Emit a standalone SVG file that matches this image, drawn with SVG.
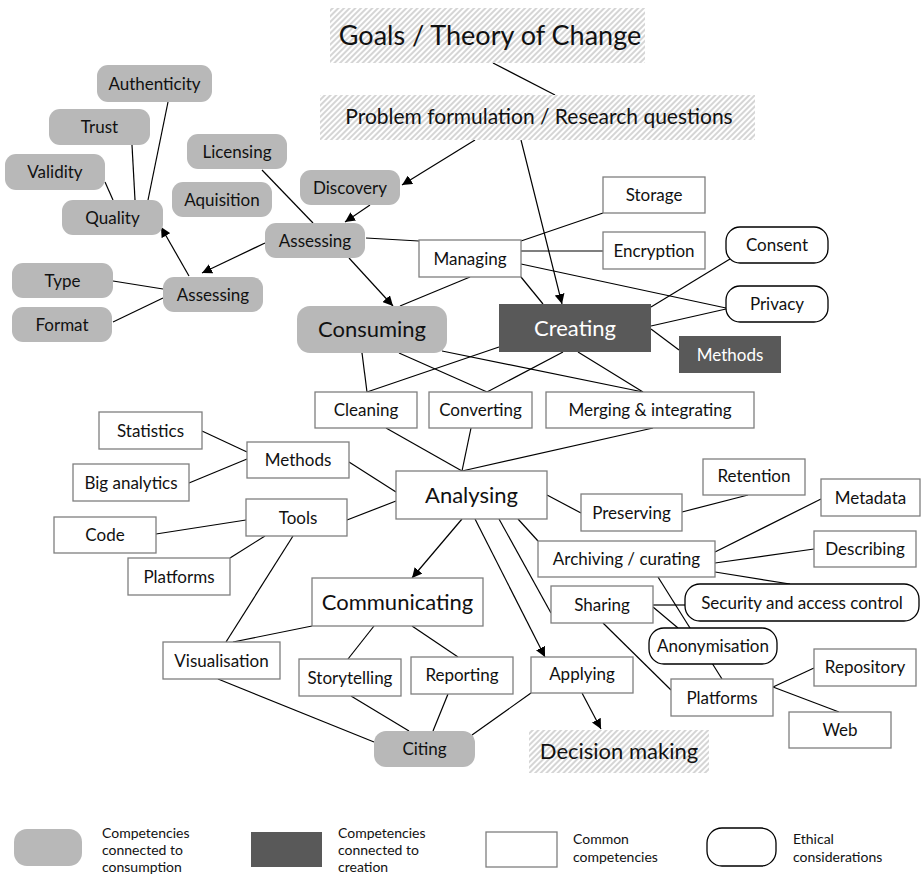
<svg xmlns="http://www.w3.org/2000/svg" width="923" height="877" viewBox="0 0 923 877">
<defs>
<pattern id="hatch" width="4" height="4" patternUnits="userSpaceOnUse" patternTransform="rotate(45)">
<rect width="4" height="4" fill="#ffffff"/>
<line x1="1" y1="0" x2="1" y2="4" stroke="#c4c4c4" stroke-width="1.4"/>
</pattern>
<marker id="arr" viewBox="0 0 10 10" refX="10" refY="5" markerWidth="10" markerHeight="10" markerUnits="userSpaceOnUse" orient="auto">
<path d="M0,0 L10,5 L0,10 Z" fill="#000"/>
</marker>
</defs>
<style>
text{font-family:Lato,"Liberation Sans",sans-serif;fill:#111;text-anchor:middle}
.g{fill:#b8b8b8;stroke:none}
.d{fill:#595959;stroke:none}
.w{fill:#fff;stroke:#7f7f7f;stroke-width:1.3}
.e{fill:#fff;stroke:#000;stroke-width:1.3}
.h{fill:url(#hatch);stroke:none}
.s{font-size:17px}
.l{font-size:22px}
.wt{fill:#fff}
#connectors line,#connectors path{stroke:#000;stroke-width:1.2;fill:none}
.a{marker-end:url(#arr)}
.lg{font-size:14px;text-anchor:start}
</style>
<rect width="923" height="877" fill="#fff"/>
<g id="connectors">
<line x1="493" y1="63" x2="555" y2="95"/>
<line class="a" x1="475" y1="140" x2="402" y2="185"/>
<line class="a" x1="521" y1="140" x2="562" y2="304"/>
<line class="a" x1="370" y1="205" x2="345" y2="222"/>
<line class="a" x1="265" y1="243" x2="202" y2="273"/>
<line class="a" x1="189" y1="276" x2="161" y2="227"/>
<line class="a" x1="349" y1="258" x2="393" y2="306"/>
<line x1="105" y1="182" x2="113" y2="200"/>
<line x1="132" y1="145" x2="135" y2="200"/>
<line x1="168" y1="102" x2="148" y2="200"/>
<line x1="113" y1="281" x2="163" y2="289"/>
<line x1="113" y1="322" x2="163" y2="298"/>
<line x1="262" y1="170" x2="313" y2="223"/>
<line x1="366" y1="238" x2="419" y2="241"/>
<line x1="400" y1="306" x2="470" y2="277"/>
<line x1="521" y1="241" x2="603" y2="213"/>
<line x1="521" y1="251" x2="603" y2="251"/>
<line x1="521" y1="264" x2="726" y2="308"/>
<line x1="521" y1="277" x2="543" y2="304"/>
<line x1="651" y1="307" x2="730" y2="259"/>
<line x1="651" y1="326" x2="726" y2="309"/>
<line x1="651" y1="329" x2="679" y2="350"/>
<line x1="362" y1="353" x2="367" y2="392"/>
<line x1="399" y1="353" x2="487" y2="392"/>
<line x1="442" y1="351" x2="643" y2="392"/>
<line x1="499" y1="347" x2="367" y2="392"/>
<line x1="563" y1="352" x2="487" y2="392"/>
<line x1="578" y1="352" x2="643" y2="392"/>
<line x1="386" y1="428" x2="462" y2="471"/>
<line x1="471" y1="428" x2="462" y2="471"/>
<line x1="653" y1="428" x2="462" y2="471"/>
<line x1="202" y1="431" x2="247" y2="452"/>
<line x1="189" y1="483" x2="247" y2="459"/>
<line x1="349" y1="462" x2="396" y2="492"/>
<line x1="347" y1="520" x2="396" y2="501"/>
<line x1="156" y1="534" x2="246" y2="520"/>
<line x1="230" y1="558" x2="265" y2="536"/>
<line x1="293" y1="536" x2="226" y2="642"/>
<line class="a" x1="462" y1="519" x2="412" y2="578"/>
<line class="a" x1="475" y1="519" x2="545" y2="657"/>
<line x1="499" y1="519" x2="551" y2="613"/>
<line x1="518" y1="519" x2="538" y2="541"/>
<line x1="547" y1="495" x2="581" y2="513"/>
<line x1="682" y1="512" x2="748" y2="495"/>
<line x1="715" y1="552" x2="821" y2="499"/>
<line x1="715" y1="563" x2="814" y2="549"/>
<line x1="715" y1="572" x2="790" y2="584"/>
<line x1="658" y1="577" x2="722" y2="679"/>
<line x1="653" y1="605" x2="685" y2="605"/>
<line x1="653" y1="607" x2="678" y2="628"/>
<line x1="603" y1="623" x2="671" y2="690"/>
<line x1="773" y1="687" x2="814" y2="668"/>
<line x1="773" y1="687" x2="839" y2="712"/>
<line class="a" x1="582" y1="693" x2="601" y2="729"/>
<line x1="531" y1="693" x2="472" y2="735"/>
<line x1="312" y1="626" x2="233" y2="642"/>
<line x1="374" y1="626" x2="348" y2="659"/>
<line x1="412" y1="626" x2="458" y2="657"/>
<line x1="218" y1="679" x2="374" y2="742"/>
<line x1="351" y1="696" x2="409" y2="731"/>
<line x1="448" y1="694" x2="433" y2="731"/>
</g>
<g id="goals"><rect class="h" x="330" y="8" width="315" height="55"/><text x="490" y="45" style="font-size:27px">Goals / Theory of Change</text></g>
<g id="problem"><rect class="h" x="320" y="95" width="435" height="45"/><text x="539" y="124" style="font-size:21px">Problem formulation / Research questions</text></g>
<g id="authenticity"><rect class="g" x="97" y="65" width="115" height="37" rx="11"/><text class="s" x="154.5" y="89.5">Authenticity</text></g>
<g id="trust"><rect class="g" x="49" y="109" width="101" height="36" rx="11"/><text class="s" x="99.5" y="133">Trust</text></g>
<g id="validity"><rect class="g" x="5" y="154" width="100" height="36" rx="11"/><text class="s" x="55" y="178">Validity</text></g>
<g id="licensing"><rect class="g" x="187" y="134" width="100" height="35" rx="11"/><text class="s" x="237" y="157.5">Licensing</text></g>
<g id="aquisition"><rect class="g" x="172" y="182" width="100" height="35" rx="11"/><text class="s" x="222" y="205.5">Aquisition</text></g>
<g id="quality"><rect class="g" x="62" y="200" width="101" height="35" rx="11"/><text class="s" x="112.5" y="223.5">Quality</text></g>
<g id="discovery"><rect class="g" x="300" y="170" width="100" height="35" rx="11"/><text class="s" x="350" y="193.5">Discovery</text></g>
<g id="assessing1"><rect class="g" x="265" y="223" width="100" height="35" rx="11"/><text class="s" x="315" y="246.5">Assessing</text></g>
<g id="assessing2"><rect class="g" x="163" y="277" width="100" height="35" rx="11"/><text class="s" x="213" y="300.5">Assessing</text></g>
<g id="type"><rect class="g" x="12" y="263" width="101" height="35" rx="11"/><text class="s" x="62.5" y="286.5">Type</text></g>
<g id="format"><rect class="g" x="12" y="307" width="100" height="35" rx="11"/><text class="s" x="62" y="330.5">Format</text></g>
<g id="consuming"><rect class="g" x="297" y="306" width="150" height="47" rx="13"/><text class="l" x="372" y="337">Consuming</text></g>
<g id="creating"><rect class="d" x="499" y="304" width="152" height="48"/><text class="l wt" x="575" y="336">Creating</text></g>
<g id="methods-create"><rect class="d" x="679" y="336" width="102" height="37"/><text class="s wt" x="730" y="361">Methods</text></g>
<g id="storage"><rect class="w" x="603" y="177" width="102" height="36"/><text class="s" x="654" y="201">Storage</text></g>
<g id="encryption"><rect class="w" x="603" y="232" width="102" height="37"/><text class="s" x="654" y="256.5">Encryption</text></g>
<g id="managing"><rect class="w" x="419" y="240" width="102" height="37"/><text class="s" x="470" y="264.5">Managing</text></g>
<g id="consent"><rect class="e" x="726" y="227" width="102" height="36" rx="14"/><text class="s" x="777" y="251">Consent</text></g>
<g id="privacy"><rect class="e" x="726" y="286" width="102" height="36" rx="14"/><text class="s" x="777" y="310">Privacy</text></g>
<g id="cleaning"><rect class="w" x="315" y="392" width="102" height="36"/><text class="s" x="366" y="416">Cleaning</text></g>
<g id="converting"><rect class="w" x="429" y="392" width="103" height="36"/><text class="s" x="480.5" y="416">Converting</text></g>
<g id="merging"><rect class="w" x="546" y="392" width="208" height="36"/><text class="s" x="650" y="416">Merging &amp; integrating</text></g>
<g id="statistics"><rect class="w" x="99" y="412" width="103" height="37"/><text class="s" x="150.5" y="436.5">Statistics</text></g>
<g id="big-analytics"><rect class="w" x="73" y="464" width="116" height="37"/><text class="s" x="131" y="488.5">Big analytics</text></g>
<g id="methods"><rect class="w" x="247" y="442" width="102" height="36"/><text class="s" x="298" y="466">Methods</text></g>
<g id="tools"><rect class="w" x="246" y="499" width="101" height="37"/><text class="s" x="298" y="523.5">Tools</text></g>
<g id="code"><rect class="w" x="54" y="517" width="102" height="36"/><text class="s" x="105" y="541">Code</text></g>
<g id="platforms-left"><rect class="w" x="128" y="558" width="102" height="37"/><text class="s" x="179" y="582.5">Platforms</text></g>
<g id="analysing"><rect class="w" x="396" y="471" width="151" height="48"/><text class="l" x="471.5" y="503">Analysing</text></g>
<g id="communicating"><rect class="w" x="312" y="578" width="171" height="48"/><text class="l" x="397.5" y="610">Communicating</text></g>
<g id="visualisation"><rect class="w" x="163" y="642" width="117" height="37"/><text class="s" x="221.5" y="666.5">Visualisation</text></g>
<g id="storytelling"><rect class="w" x="299" y="659" width="102" height="37"/><text class="s" x="350" y="683.5">Storytelling</text></g>
<g id="reporting"><rect class="w" x="411" y="657" width="102" height="37"/><text class="s" x="462" y="681">Reporting</text></g>
<g id="citing"><rect class="g" x="374" y="731" width="101" height="36" rx="12"/><text class="s" x="424.5" y="755">Citing</text></g>
<g id="applying"><rect class="w" x="531" y="657" width="102" height="36"/><text class="s" x="582" y="679.5">Applying</text></g>
<g id="decision"><rect class="h" x="529" y="730" width="180" height="43"/><text x="619" y="759" style="font-size:22px">Decision making</text></g>
<g id="retention"><rect class="w" x="703" y="459" width="102" height="36"/><text class="s" x="754" y="482">Retention</text></g>
<g id="preserving"><rect class="w" x="581" y="494" width="101" height="37"/><text class="s" x="631.5" y="518.5">Preserving</text></g>
<g id="metadata"><rect class="w" x="821" y="479" width="99" height="37"/><text class="s" x="870.5" y="503.5">Metadata</text></g>
<g id="archiving"><rect class="w" x="538" y="541" width="177" height="36"/><text class="s" x="626.5" y="565">Archiving / curating</text></g>
<g id="describing"><rect class="w" x="814" y="531" width="102" height="36"/><text class="s" x="865" y="555">Describing</text></g>
<g id="sharing"><rect class="w" x="551" y="586" width="102" height="37"/><text class="s" x="602" y="610.5">Sharing</text></g>
<g id="security"><rect class="e" x="685" y="584" width="234" height="37" rx="15"/><text class="s" x="802" y="608.5">Security and access control</text></g>
<g id="anonymisation"><rect class="e" x="649" y="628" width="128" height="36" rx="15"/><text class="s" x="713" y="652">Anonymisation</text></g>
<g id="repository"><rect class="w" x="814" y="649" width="102" height="37"/><text class="s" x="865" y="673">Repository</text></g>
<g id="platforms-right"><rect class="w" x="671" y="679" width="102" height="37"/><text class="s" x="722" y="703.5">Platforms</text></g>
<g id="web"><rect class="w" x="789" y="712" width="102" height="36"/><text class="s" x="840" y="736">Web</text></g>
<g id="legend">
<rect class="g" x="14" y="829" width="68" height="37" rx="13"/>
<text class="lg" x="102"><tspan x="102" y="838">Competencies</tspan><tspan x="102" y="855">connected to</tspan><tspan x="102" y="872">consumption</tspan></text>
<rect class="d" x="251" y="832" width="71" height="35"/>
<text class="lg" x="338"><tspan x="338" y="838">Competencies</tspan><tspan x="338" y="855">connected to</tspan><tspan x="338" y="872">creation</tspan></text>
<rect class="w" x="486" y="832" width="71" height="35"/>
<text class="lg" x="573"><tspan x="573" y="844">Common</tspan><tspan x="573" y="862">competencies</tspan></text>
<rect class="e" x="707" y="828" width="69" height="38" rx="15"/>
<text class="lg" x="793"><tspan x="793" y="844">Ethical</tspan><tspan x="793" y="862">considerations</tspan></text>
</g>
</svg>
